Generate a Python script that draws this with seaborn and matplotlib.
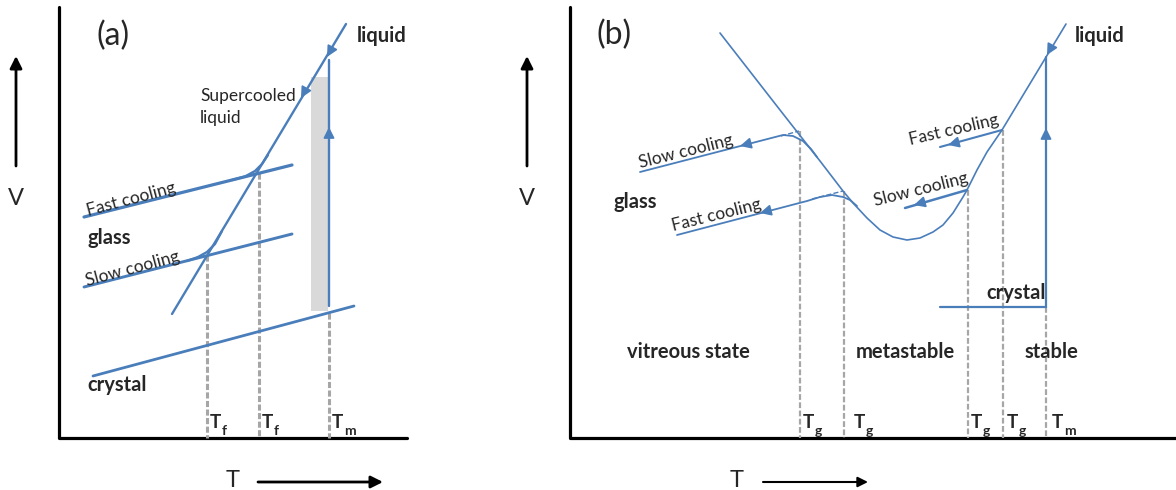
import matplotlib
matplotlib.use("Agg")
import matplotlib.pyplot as plt
import seaborn as sns

# everything below is in the pixel grid of the original figure (y grows downwards)
blue = "#4a7ebb"
dash_grey = "#a6a6a6"

# ---- panel (a) ----
a_liquid_x = [346, 172]
a_liquid_y = [24, 314]
a_fast_x = [84, 292]
a_fast_y = [217, 165]
a_fast_bend_x = [232, 245, 255, 262, 268]
a_fast_bend_y = [180, 176.5, 171, 164, 155]
a_slow_x = [84, 292]
a_slow_y = [287, 234]
a_slow_bend_x = [187, 198, 207, 215, 222]
a_slow_bend_y = [261, 257, 252, 244, 231]
a_crystal_x = [93, 354]
a_crystal_y = [376, 306]
a_melt_x = [329, 329]
a_melt_y = [60, 306]
a_band_x = [311, 328]
a_band_top, a_band_bottom = 77, 311
a_temps_x = [207, 259, 329]
a_temps_top = [255, 173, 313]
a_temp_labels = [("T", "f"), ("T", "f"), ("T", "m")]
a_temp_label_x = [210, 262, 332]

# ---- panel (b) ----
b_curve_x = [720, 780, 820, 843, 853, 867, 880, 893, 907, 920, 933, 943,
             953, 963, 967, 977, 987, 1002, 1066]
b_curve_y = [33, 110, 161, 191, 203, 218, 230, 237, 240, 238, 232, 225,
             213, 197, 190, 170, 152, 130, 24]
b_slow_x = [640, 783, 793, 803, 811, 817]
b_slow_y = [172, 135, 136, 141, 149, 157]
b_slow_dash_x = [781, 799]
b_slow_dash_y = [136, 131]
b_fast_x = [677, 807, 820, 832, 843, 850, 857]
b_fast_y = [235, 201, 197, 195, 197, 200, 206]
b_fast_dash_x = [812, 843]
b_fast_dash_y = [199, 191]
b_fast_r_x = [940, 1002]
b_fast_r_y = [147, 130]
b_slow_r_x = [905, 967]
b_slow_r_y = [208, 190]
b_melt_x = [1046, 1046]
b_melt_y = [57, 307]
b_crystal_x = [940, 1046]
b_crystal_y = [307, 307]
b_temps_x = [800, 844, 968, 1003, 1046]
b_temps_top = [131, 191, 190, 130, 307]
b_temp_labels = [("T", "g"), ("T", "g"), ("T", "g"), ("T", "g"), ("T", "m")]
b_temp_label_x = [803, 854, 971, 1007, 1052]

sns.set_theme(style="white")
plt.rcParams["font.family"] = ["Lato", "DejaVu Sans"]

fig = plt.figure(figsize=(11.76, 4.9), dpi=100)
ax = fig.add_axes([0, 0, 1, 1])
ax.set_xlim(0, 1176)
ax.set_ylim(490, 0)
ax.axis("off")

BOLD = 14.5
NORM = 12.5


def draw(xs, ys, lw, color=blue, **kw):
    sns.lineplot(x=xs, y=ys, sort=False, estimator=None, color=color,
                 lw=lw, ax=ax, legend=False, **kw)


def head(tip, tail, color=blue, size=11):
    ax.annotate("", xy=tip, xytext=tail,
                arrowprops=dict(arrowstyle="-|>,head_length=0.6,head_width=0.3",
                                color=color, lw=1.2, shrinkA=0, shrinkB=0,
                                mutation_scale=size))


def temp_label(x, y, main, sub):
    t = ax.text(x, y, main, fontsize=13.5, fontweight="bold", ha="left", va="baseline")
    ax.annotate(sub, xy=(1, 0), xycoords=t, xytext=(0.6, -3),
                textcoords="offset points", fontsize=10, fontweight="bold",
                ha="left", va="baseline")


# axes frames
draw([59, 59, 407], [7, 438, 438], 2.3, color="black")
draw([570, 570, 1176], [7, 438, 438], 2.3, color="black")

# V / T arrows
for vx in [16, 527]:
    ax.annotate("", xy=(vx, 56), xytext=(vx, 166),
                arrowprops=dict(arrowstyle="-|>,head_length=0.6,head_width=0.3",
                                color="black", lw=2, shrinkA=0, shrinkB=0,
                                mutation_scale=12))
    ax.text(vx, 198, "V", fontsize=17, ha="center", va="center")
ax.annotate("", xy=(383, 482), xytext=(258, 482),
            arrowprops=dict(arrowstyle="-|>,head_length=0.6,head_width=0.3",
                            color="black", lw=2, shrinkA=0, shrinkB=0,
                            mutation_scale=12))
ax.text(233, 480, "T", fontsize=17, ha="center", va="center")
ax.annotate("", xy=(868, 482), xytext=(763, 482),
            arrowprops=dict(arrowstyle="-|>,head_length=0.6,head_width=0.3",
                            color="black", lw=1.5, shrinkA=0, shrinkB=0,
                            mutation_scale=10))
ax.text(737, 480, "T", fontsize=17, ha="center", va="center")

# ---------------- panel (a) ----------------
ax.fill_between(a_band_x, a_band_top, a_band_bottom, color="#d9d9d9", lw=0)
ax.vlines(a_temps_x, a_temps_top, 438, colors=dash_grey, lw=2.2,
          linestyles=(0, (2.0, 0.8)))
draw(a_liquid_x, a_liquid_y, 1.7)
draw(a_fast_x, a_fast_y, 2.3)
draw(a_fast_bend_x, a_fast_bend_y, 1.7)
draw(a_slow_x, a_slow_y, 2.1)
draw(a_slow_bend_x, a_slow_bend_y, 1.7)
draw(a_crystal_x, a_crystal_y, 2.0)
draw(a_melt_x, a_melt_y, 1.7)
head((327, 57), (332, 48))
head((301, 98), (306, 89))
head((329, 127), (329, 137))

ax.text(96, 36, "(a)", fontsize=23, ha="left", va="center")
ax.text(357, 42, "liquid", fontsize=BOLD, fontweight="bold", ha="left", va="baseline")
ax.text(200, 101, "Supercooled", fontsize=NORM, ha="left", va="baseline")
ax.text(200, 123, "liquid", fontsize=NORM, ha="left", va="baseline")
ax.text(131, 199, "Fast cooling", fontsize=NORM, rotation=15, ha="center", va="center")
ax.text(87, 244, "glass", fontsize=BOLD, fontweight="bold", ha="left", va="baseline")
ax.text(133, 269, "Slow cooling", fontsize=NORM, rotation=15, ha="center", va="center")
ax.text(87, 391, "crystal", fontsize=BOLD, fontweight="bold", ha="left", va="baseline")
for x, (m, s) in zip(a_temp_label_x, a_temp_labels):
    temp_label(x, 428, m, s)

# ---------------- panel (b) ----------------
ax.vlines(b_temps_x, b_temps_top, 438, colors=dash_grey, lw=1.6,
          linestyles=(0, (2.6, 1.1)))
draw(b_curve_x, b_curve_y, 1.2)
draw(b_slow_x, b_slow_y, 1.3)
draw(b_slow_dash_x, b_slow_dash_y, 1.0, linestyle="--")
draw(b_fast_x, b_fast_y, 1.3)
draw(b_fast_dash_x, b_fast_dash_y, 1.0, linestyle="--")
draw(b_fast_r_x, b_fast_r_y, 1.5)
draw(b_slow_r_x, b_slow_r_y, 1.8)
draw(b_melt_x, b_melt_y, 1.6)
draw(b_crystal_x, b_crystal_y, 1.6)
head((1047, 55), (1052, 46))
head((1046, 128), (1046, 138))
head((740, 146), (750, 143.4))
head((760, 213), (770, 210.4))
head((948, 145), (958, 142.3))
head((914, 205), (924, 202.1))

ax.text(597, 35, "(b)", fontsize=23, ha="left", va="center")
ax.text(1075, 42, "liquid", fontsize=BOLD, fontweight="bold", ha="left", va="baseline")
ax.text(613, 208, "glass", fontsize=BOLD, fontweight="bold", ha="left", va="baseline")
ax.text(686, 152, "Slow cooling", fontsize=NORM, rotation=14, ha="center", va="center")
ax.text(717, 215, "Fast cooling", fontsize=NORM, rotation=14, ha="center", va="center")
ax.text(954, 130, "Fast cooling", fontsize=NORM, rotation=13, ha="center", va="center")
ax.text(921, 190, "Slow cooling", fontsize=NORM, rotation=14, ha="center", va="center")
ax.text(1046, 299, "crystal", fontsize=BOLD, fontweight="bold", ha="right", va="baseline")
ax.text(627, 358, "vitreous state", fontsize=BOLD, fontweight="bold", ha="left", va="baseline")
ax.text(856, 358, "metastable", fontsize=BOLD, fontweight="bold", ha="left", va="baseline")
ax.text(1025, 358, "stable", fontsize=BOLD, fontweight="bold", ha="left", va="baseline")
for x, (m, s) in zip(b_temp_label_x, b_temp_labels):
    temp_label(x, 428, m, s)

fig.savefig("out.png", dpi=100)
